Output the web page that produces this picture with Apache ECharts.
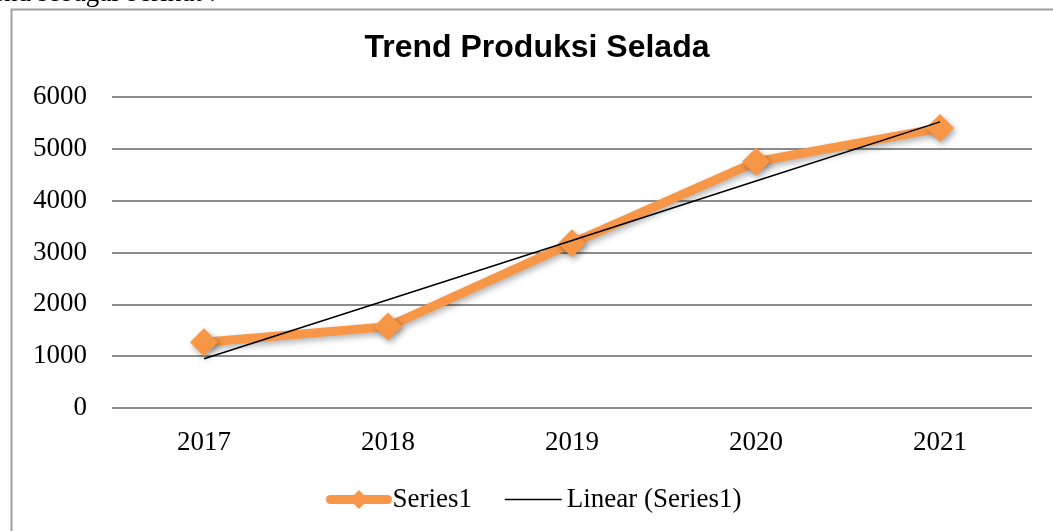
<!DOCTYPE html>
<html>
<head>
<meta charset="utf-8">
<script src="https://cdn.jsdelivr.net/npm/echarts@6/dist/echarts.min.js"></script>
<style>
html,body{margin:0;padding:0;background:#fff;}
#c{width:1053px;height:531px;}
</style>
</head>
<body>
<div id="c"></div>
<script>
var categories = ['2017', '2018', '2019', '2020', '2021'];
var series1 = [1270, 1570, 3180, 4750, 5400];
var linearTrend = [950, 2090, 3230, 4380, 5520];
var yTicks = [0, 1000, 2000, 3000, 4000, 5000, 6000];

var serif = '"Liberation Serif", "Times New Roman", serif';
var chart = echarts.init(document.getElementById('c'));
chart.setOption({
  animation: false,
  backgroundColor: '#fff',
  title: {
    text: 'Trend Produksi Selada',
    left: 532, textAlign: 'center', top: 27,
    textStyle: { fontFamily: '"Liberation Sans", Arial, sans-serif', fontWeight: 'bold', fontSize: 32, color: '#000' }
  },
  graphic: [
    { type: 'rect', shape: { x: 11.5, y: 9.5, width: 1100, height: 600 }, style: { fill: 'none', stroke: '#a0a0a0', lineWidth: 2 }, z: -1 },
    { type: 'text', x: -8, y: -20, style: { text: 'end sebagai berikut :', fontFamily: serif, fontSize: 27, lineHeight: 27, fill: '#000' } }
  ],
  grid: { left: 112, right: 21, top: 97, bottom: 123 },
  legend: {
    top: 481, left: 321,
    itemWidth: 57, itemHeight: 24, itemGap: 32,
    textStyle: { fontFamily: serif, fontSize: 27, color: '#000' },
    data: [
      { name: 'Series1', lineStyle: { width: 9, cap: 'round', color: '#F79646' }, itemStyle: { color: '#F79646' } },
      { name: 'Linear (Series1)', lineStyle: { width: 1.5, color: '#000' }, itemStyle: { color: '#000', opacity: 0 } }
    ]
  },
  xAxis: {
    type: 'category', data: categories, boundaryGap: true,
    axisLine: { show: false }, axisTick: { show: false },
    axisLabel: { fontFamily: serif, fontSize: 27, color: '#000', margin: 21 }
  },
  yAxis: {
    type: 'value', min: yTicks[0], max: yTicks[yTicks.length - 1], interval: 1000,
    axisLine: { show: false }, axisTick: { show: false },
    axisLabel: { fontFamily: serif, fontSize: 27, color: '#000', margin: 25, formatter: function (v) { return String(v); } },
    splitLine: { lineStyle: { color: '#8c8c8c', width: 2 } }
  },
  series: [
    {
      name: 'Series1', type: 'line', data: series1,
      symbol: 'diamond', symbolSize: 28,
      lineStyle: { color: '#F79646', width: 9, shadowBlur: 6, shadowColor: 'rgba(0,0,0,0.3)', shadowOffsetY: 3, shadowOffsetX: 2 },
      itemStyle: { color: '#F79646', shadowBlur: 6, shadowColor: 'rgba(0,0,0,0.35)', shadowOffsetY: 3, shadowOffsetX: 2 },
      z: 2
    },
    {
      name: 'Linear (Series1)', type: 'line', data: linearTrend,
      symbol: 'none', lineStyle: { color: '#000', width: 1.5 }, itemStyle: { color: '#000' },
      z: 3
    }
  ]
});
</script>
</body>
</html>
